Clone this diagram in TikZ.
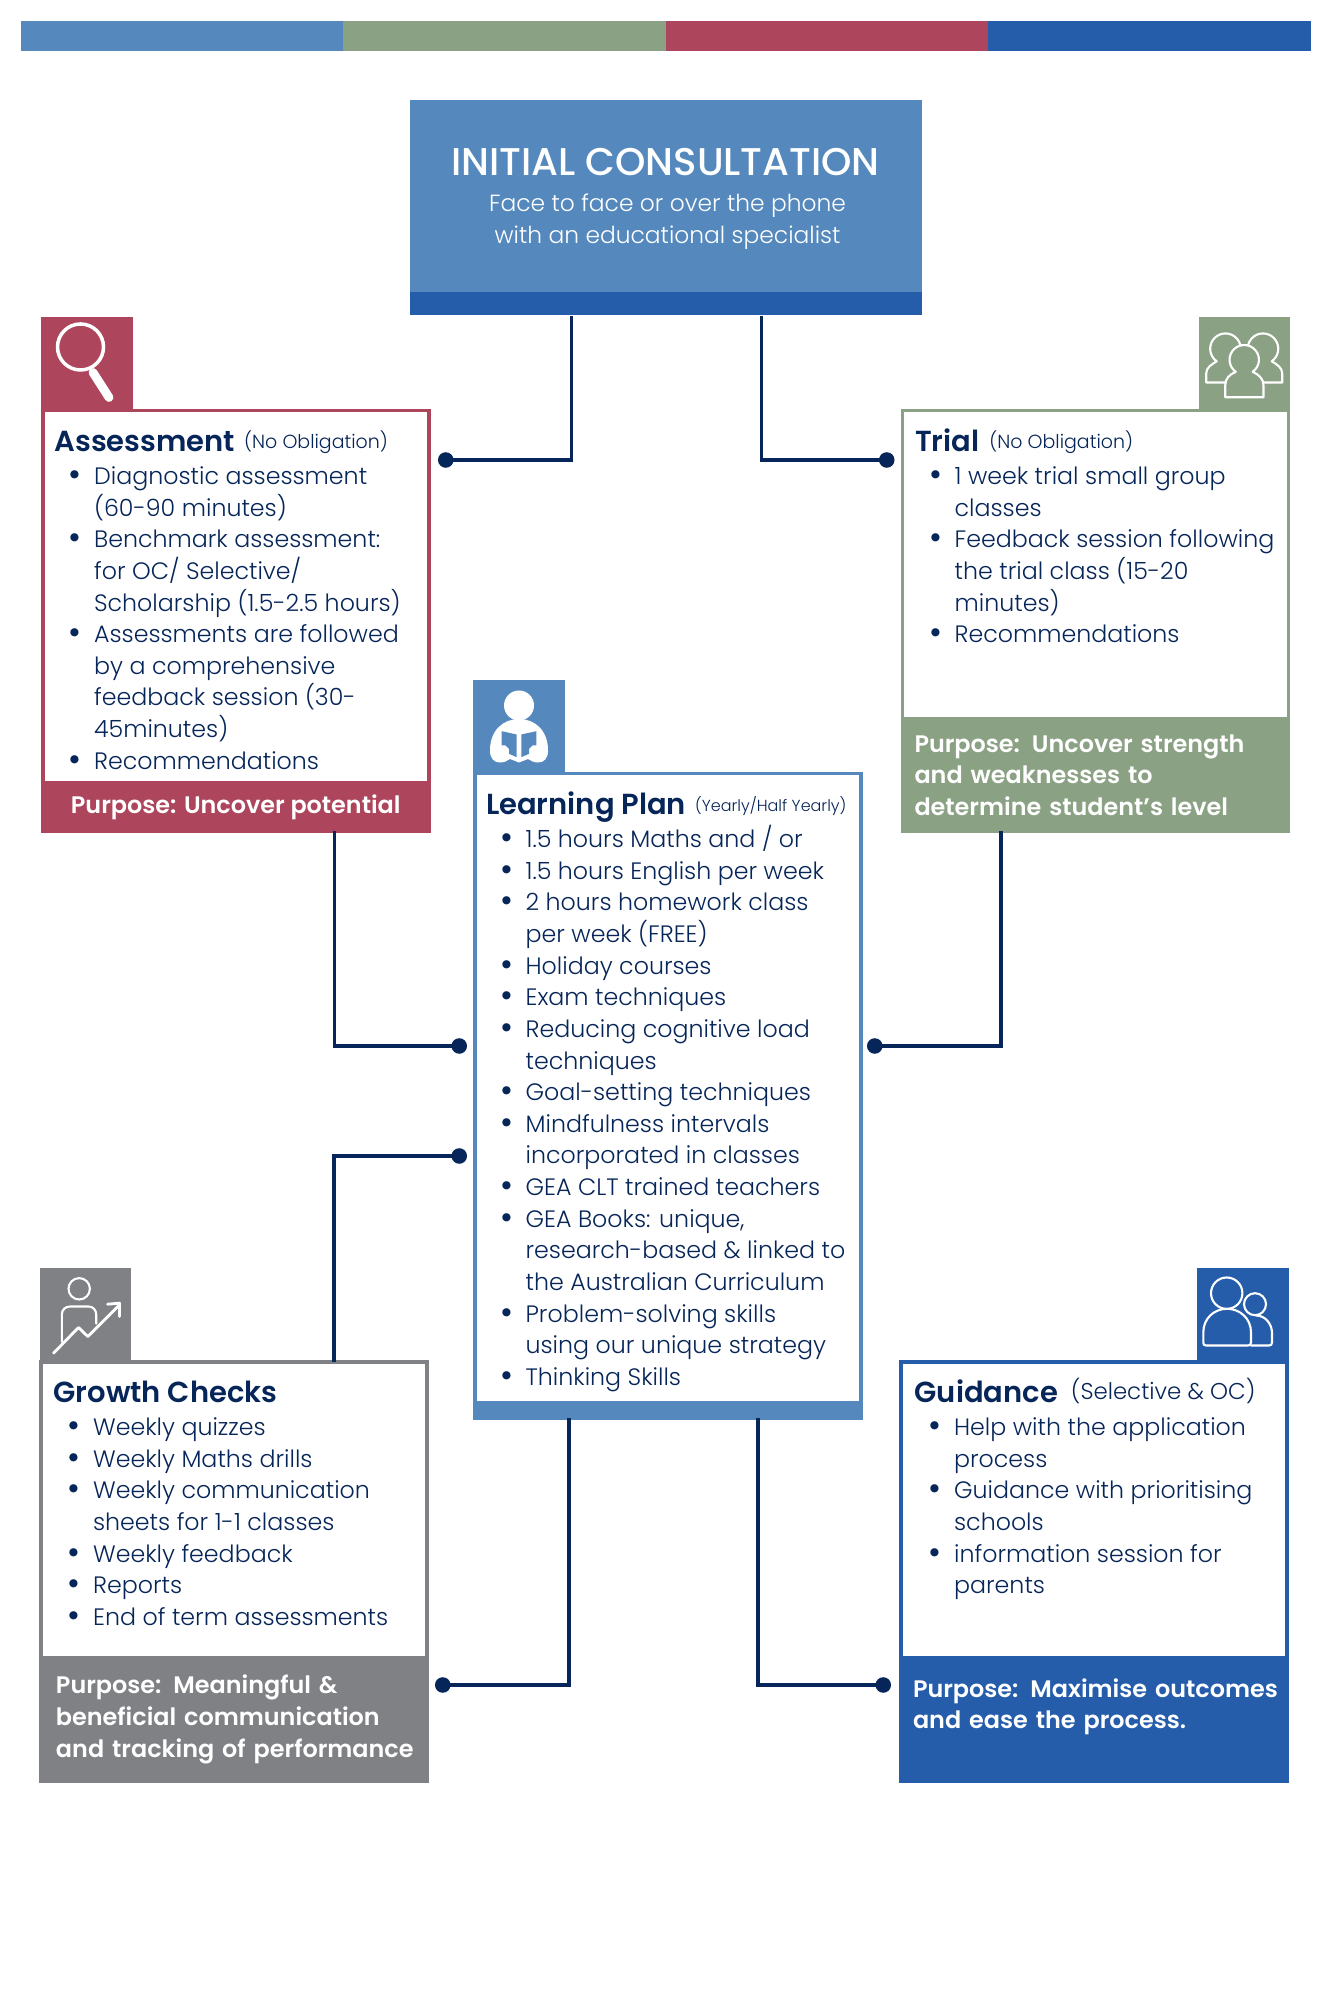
\documentclass[tikz,border=0pt]{standalone}
\usepackage{fontspec}
\setmainfont{Poppins Light}[BoldFont={Poppins SemiBold}]
\newfontfamily\titlefont{Poppins Medium}
\usepackage{xcolor}
\usetikzlibrary{arrows.meta,positioning,calc}
\definecolor{gblue}{RGB}{85,137,189}
\definecolor{ggreen}{RGB}{139,161,132}
\definecolor{gred}{RGB}{173,70,92}
\definecolor{gdeep}{RGB}{37,93,171}
\definecolor{ggrey}{RGB}{128,129,132}
\definecolor{gnavy}{RGB}{6,37,88}
% one list line, and the line that carries on from it
\newcommand{\itm}[1]{\hspace*{0.28cm}\makebox[0.51cm][l]{\raisebox{-1.2pt}{\fontsize{20pt}{18pt}\selectfont\textbullet}}#1}
\newcommand{\cnt}[1]{\hspace*{0.79cm}#1}
\newcommand{\headtxt}[1]{\rule[-4pt]{0pt}{18pt}{\fontsize{16.5pt}{18pt}\selectfont\bfseries #1}}
\newcommand{\notetxt}[2][10.8pt]{\raisebox{1.8pt}{\fontsize{#1}{12pt}\selectfont #2}}
\begin{document}
\begin{tikzpicture}[
    stripe/.style={rectangle, minimum width=6.45cm, minimum height=0.59cm, inner sep=0pt, outer sep=0pt},
    panel/.style={rectangle, draw, line width=2pt, fill=white, minimum width=7.72cm, inner sep=0pt, outer sep=0pt},
    band/.style={rectangle, minimum width=7.79cm, inner sep=0pt, outer sep=0pt, text=white, align=left, font=\fontsize{13.6pt}{18pt}\selectfont\bfseries},
    icon/.style={rectangle, minimum width=1.83cm, minimum height=1.83cm, inner sep=0pt, outer sep=0pt},
    listtxt/.style={anchor=north west, inner sep=0pt, text=gnavy, align=left, font=\fontsize{13.5pt}{18pt}\selectfont},
    glyph/.style={draw=white, line width=1.2pt, line cap=round, line join=round},
    link/.style={draw=gnavy, line width=1.8pt, -{Circle[length=0.31cm]}}
]
    \useasboundingbox (0,0) rectangle (26.66,40);

    % Colour strip along the top
    \node[stripe, fill=gblue, anchor=north west] (barA) at (0.41,39.57) {};
    \node[stripe, fill=ggreen, right=0pt of barA] (barB) {};
    \node[stripe, fill=gred, right=0pt of barB] (barC) {};
    \node[stripe, fill=gdeep, right=0pt of barC] (barD) {};

    % Initial consultation
    \node[rectangle, fill=gblue, minimum width=10.25cm, minimum height=4.31cm, inner sep=0pt, anchor=north west] (consult) at (8.19,38.01) {};
    \node[rectangle, fill=gdeep, minimum width=10.25cm, minimum height=0.46cm, inner sep=0pt, anchor=south] (consultbar) at (consult.south) {};
    \node[text=white, inner sep=0pt, font=\fontsize{22pt}{28pt}\selectfont\titlefont] (consulttitle) at (13.31,36.76) {INITIAL CONSULTATION};
    \node[text=white, inner sep=0pt, align=center, font=\fontsize{13.3pt}{18pt}\selectfont] (consultsub) at (13.35,35.57) {Face to face or over the phone\\with an educational specialist};

    % Assessment
    \node[panel, draw=gred, minimum height=8.41cm, anchor=north west] (assess) at (0.855,31.785) {};
    \node[band, fill=gred, minimum height=1.04cm, align=center] (assessband) at ($(assess.south)+(0,0.485)$) {Purpose: Uncover potential};
    \node[icon, fill=gred, anchor=south west] (assessicon) at ($(assess.north west)+(-0.035,0.035)$) {};
    \node[listtxt] (assesstxt) at ($(assess.north west)+(0.23,-0.31)$) {\headtxt{Assessment}\hspace{0.18cm}\notetxt{(No Obligation)}\\[1pt]
        \itm{Diagnostic assessment}\\
        \cnt{(60-90 minutes)}\\
        \itm{Benchmark assessment:}\\
        \cnt{for OC/ Selective/}\\
        \cnt{Scholarship (1.5-2.5 hours)}\\
        \itm{Assessments are followed}\\
        \cnt{by a comprehensive}\\
        \cnt{feedback session (30-}\\
        \cnt{45minutes)}\\
        \itm{Recommendations}};

    % Trial
    \node[panel, draw=ggreen, minimum height=8.41cm, anchor=north west] (trial) at (18.045,31.785) {};
    \node[band, fill=ggreen, minimum height=2.32cm, text width=7.23cm, minimum width=0pt, inner xsep=0.28cm] (trialband) at ($(trial.south)+(0,1.125)$) {Purpose: Uncover strength\\and weaknesses to\\determine student’s level};
    \node[icon, fill=ggreen, anchor=south east] (trialicon) at ($(trial.north east)+(0.035,0.035)$) {};
    \node[listtxt] (trialtxt) at ($(trial.north west)+(0.25,-0.31)$) {\headtxt{Trial}\hspace{0.2cm}\notetxt{(No Obligation)}\\[1pt]
        \itm{1 week trial small group}\\
        \cnt{classes}\\
        \itm{Feedback session following}\\
        \cnt{the trial class (15-20}\\
        \cnt{minutes)}\\
        \itm{Recommendations}};

    % Learning plan
    \node[panel, draw=gblue, minimum height=12.89cm, anchor=north west] (learn) at (9.495,24.525) {};
    \node[band, fill=gblue, minimum height=0.38cm] (learnband) at ($(learn.south)+(0,0.155)$) {};
    \node[icon, fill=gblue, anchor=south west] (learnicon) at ($(learn.north west)+(-0.035,0.035)$) {};
    \node[listtxt] (learntxt) at ($(learn.north west)+(0.22,-0.31)$) {\headtxt{Learning Plan}\hspace{0.18cm}\notetxt[9.1pt]{(Yearly/Half Yearly)}\\[1pt]
        \itm{1.5 hours Maths and / or}\\
        \itm{1.5 hours English per week}\\
        \itm{2 hours homework class}\\
        \cnt{per week (FREE)}\\
        \itm{Holiday courses}\\
        \itm{Exam techniques}\\
        \itm{Reducing cognitive load}\\
        \cnt{techniques}\\
        \itm{Goal-setting techniques}\\
        \itm{Mindfulness intervals}\\
        \cnt{incorporated in classes}\\
        \itm{GEA CLT trained teachers}\\
        \itm{GEA Books: unique,}\\
        \cnt{research-based \& linked to}\\
        \cnt{the Australian Curriculum}\\
        \itm{Problem-solving skills}\\
        \cnt{using our unique strategy}\\
        \itm{Thinking Skills}};

    % Growth checks
    \node[panel, draw=ggrey, minimum height=8.39cm, anchor=north west] (growth) at (0.825,12.765) {};
    \node[band, fill=ggrey, minimum height=2.54cm, text width=7.13cm, minimum width=0pt, inner xsep=0.33cm] (growthband) at ($(growth.south)+(0,1.235)$) {Purpose: Meaningful \&\\beneficial communication\\\mbox{and tracking of performance}};
    \node[icon, fill=ggrey, anchor=south west] (growthicon) at ($(growth.north west)+(-0.035,0.035)$) {};
    \node[listtxt] (growthtxt) at ($(growth.north west)+(0.24,-0.31)$) {\headtxt{Growth Checks}\\[1pt]
        \itm{Weekly quizzes}\\
        \itm{Weekly Maths drills}\\
        \itm{Weekly communication}\\
        \cnt{sheets for 1-1 classes}\\
        \itm{Weekly feedback}\\
        \itm{Reports}\\
        \itm{End of term assessments}};

    % Guidance
    \node[panel, draw=gdeep, minimum height=8.39cm, anchor=north west] (guide) at (18.015,12.765) {};
    \node[band, fill=gdeep, minimum height=2.54cm, text width=7.23cm, minimum width=0pt, inner xsep=0.28cm] (guideband) at ($(guide.south)+(0,1.235)$) {\mbox{Purpose: Maximise outcomes}\\and ease the process.\\\mbox{}};
    \node[icon, fill=gdeep, anchor=south east] (guideicon) at ($(guide.north east)+(0.035,0.035)$) {};
    \node[listtxt] (guidetxt) at ($(guide.north west)+(0.27,-0.31)$) {\headtxt{Guidance}\hspace{0.26cm}\notetxt[13pt]{(Selective \& OC)}\\[1pt]
        \itm{Help with the application}\\
        \cnt{process}\\
        \itm{Guidance with prioritising}\\
        \cnt{schools}\\
        \itm{information session for}\\
        \cnt{parents}};

    % Connectors
    \coordinate (dotA) at (8.76,30.8);
    \coordinate (dotB) at (17.89,30.8);
    \coordinate (dotC) at (9.34,19.08);
    \coordinate (dotD) at (17.34,19.08);
    \coordinate (dotE) at (9.34,16.88);
    \coordinate (dotF) at (8.70,6.3);
    \coordinate (dotG) at (17.82,6.3);
    \draw[link] ($(consult.south west)+(3.24,0)$) |- (dotA);
    \draw[link] ($(consult.south west)+(7.04,0)$) |- (dotB);
    \draw[link] ($(assess.south west)+(5.83,0)$) |- (dotC);
    \draw[link] ($(trial.south west)+(1.975,0)$) |- (dotD);
    \draw[link] ($(growth.north west)+(5.855,0)$) |- (dotE);
    \draw[link] ($(learn.south west)+(1.885,0)$) |- (dotF);
    \draw[link] ($(learn.south west)+(5.665,0)$) |- (dotG);

    % Icon: magnifying glass
    \begin{scope}[shift={(assessicon.north west)}, x=0.02cm, y=-0.02cm]
        \draw[glyph, line width=2pt] (39.5,29.5) circle (23);
        \draw[glyph, line width=5pt] (52,55) -- (68,80);
    \end{scope}

    % Icon: three people
    \begin{scope}[shift={(trialicon.north west)}, x=0.02cm, y=-0.02cm]
        \draw[glyph, fill=ggreen] (18.2,43.8) arc (125:415:15.3) -- (40,60) -- (40,65) -- (7.7,65) -- (7.7,56) .. controls (7.7,50) and (13,47) .. cycle;
        \draw[glyph, fill=ggreen] (73.2,43.8) arc (55:-235:15.3) -- (51.4,60) -- (51.4,65) -- (83.7,65) -- (83.7,56) .. controls (83.7,50) and (78.4,47) .. cycle;
        \draw[glyph, fill=ggreen] (37.3,54.3) arc (125:415:14.7) .. controls (60,57) and (65,61) .. (65,68) -- (65,79.7) -- (26.7,79.7) -- (26.7,68) .. controls (26.7,61) and (31,57) .. cycle;
    \end{scope}

    % Icon: reader with a book
    \begin{scope}[shift={(learnicon.north west)}, x=0.02cm, y=-0.02cm]
        \fill[white] (46,25) circle (15);
        \fill[white] (46,38.5) .. controls (30,38.5) and (17,50) .. (17,70) .. controls (17,78) and (21,82) .. (27,82) .. controls (31,82) and (34,80.5) .. (37,78.5) -- (46,82) -- (55,78.5) .. controls (58,80.5) and (61,82) .. (65,82) .. controls (71,82) and (75,78) .. (75,70) .. controls (75,50) and (62,38.5) .. cycle;
        \fill[gblue] (28.7,50.7) -- (43.7,54) -- (43.7,76.7) -- (36,73.3) -- (36,68.3) -- (32.7,65) -- (28.7,65) -- cycle;
        \fill[gblue] (63.3,50.7) -- (48.3,54) -- (48.3,76.7) -- (56,73.3) -- (56,68.3) -- (59.3,65) -- (63.3,65) -- cycle;
    \end{scope}

    % Icon: person and rising line
    \begin{scope}[shift={(growthicon.north west)}, x=0.02cm, y=-0.02cm]
        \draw[glyph] (39.7,20.3) circle (10.7);
        \draw[glyph] (22.3,73) -- (22.3,46.3) .. controls (22.3,41) and (26,38) .. (30.7,38) -- (49,38) .. controls (53.5,38) and (56.7,41.5) .. (56.7,46.3) -- (56.7,55);
        \draw[glyph, line width=1.6pt] (14,84.7) -- (39,59) -- (48.3,68) -- (80,36.3);
        \draw[glyph, line width=1.6pt] (68,35.7) -- (80,34.7) -- (80,48);
    \end{scope}

    % Icon: two people
    \begin{scope}[shift={(guideicon.north west)}, x=0.02cm, y=-0.02cm]
        \draw[glyph] (58,35.7) circle (11);
        \draw[glyph] (59,47) .. controls (68,47) and (75,55) .. (75,64.7) -- (75,74) .. controls (75,76) and (74,77) .. (72,77) -- (54,77);
        \draw[glyph, fill=gdeep] (29.7,24.7) circle (15.7);
        \draw[glyph, fill=gdeep] (9,77) .. controls (7,77) and (6.3,76) .. (6.3,74) -- (6.3,64) .. controls (6.3,50) and (17,40.3) .. (30,40.3) .. controls (43,40.3) and (54,50) .. (54,64) -- (54,74) .. controls (54,76) and (53,77) .. (51,77) -- cycle;
    \end{scope}
\end{tikzpicture}
\end{document}
